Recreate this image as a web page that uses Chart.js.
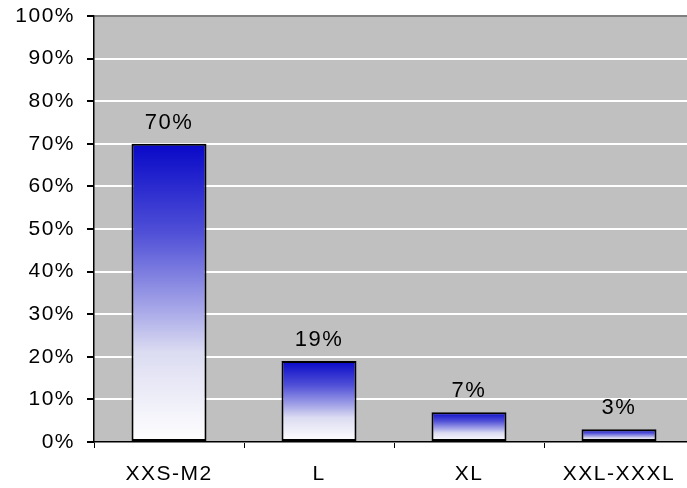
<!DOCTYPE html>
<html>
<head>
<meta charset="utf-8">
<script src="https://cdn.jsdelivr.net/npm/chart.js@4"></script>
<style>
  body { margin: 0; background: #fff; }
  #wrap { width: 687px; height: 488px; overflow: hidden; }
</style>
</head>
<body>
<div id="wrap"><canvas id="bar-chart" width="694" height="488"></canvas></div>
<script>
const labels = ["XXS-M2", "L", "XL", "XXL-XXXL"];
const shares = [70, 19, 7, 3];
const yTicks = [0, 10, 20, 30, 40, 50, 60, 70, 80, 90, 100];

const FONT = "'Liberation Sans', Arial, sans-serif";

// blue at the top of each bar fading to white at its base
const barFill = (ctx) => {
  const chart = ctx.chart;
  const y = chart.scales.y;
  if (!y || !chart.chartArea) return "#3333cc";
  const top = y.getPixelForValue(shares[ctx.dataIndex]);
  const bottom = y.getPixelForValue(0);
  const g = chart.ctx.createLinearGradient(0, top, 0, bottom);
  g.addColorStop(0, "rgb(8,8,200)");
  g.addColorStop(0.3, "rgb(80,80,215)");
  g.addColorStop(0.55, "rgb(165,165,232)");
  g.addColorStop(0.7, "rgb(220,220,242)");
  g.addColorStop(1, "rgb(255,255,255)");
  return g;
};

const plotBackground = {
  id: "plotBackground",
  beforeDraw(chart) {
    const { ctx, chartArea: a } = chart;
    ctx.letterSpacing = "1.5px";
    ctx.save();
    ctx.fillStyle = "#c0c0c0";
    ctx.fillRect(a.left, a.top, a.right - a.left, a.bottom - a.top);
    ctx.restore();
  }
};

const valueLabels = {
  id: "valueLabels",
  afterDatasetsDraw(chart) {
    const ctx = chart.ctx;
    ctx.save();
    ctx.font = "22px " + FONT;
    ctx.fillStyle = "#000";
    ctx.textAlign = "center";
    ctx.textBaseline = "alphabetic";
    chart.getDatasetMeta(0).data.forEach((bar, i) => {
      ctx.fillText(shares[i] + "%", bar.x, bar.y - 15);
    });
    ctx.restore();
  }
};

// eslint-disable-next-line no-new
new Chart(document.getElementById("bar-chart"), {
  type: "bar",
  data: {
    labels: labels,
    datasets: [{
      data: shares,
      backgroundColor: barFill,
      borderColor: "#000",
      borderWidth: 2,
      borderSkipped: false,
      categoryPercentage: 1,
      barPercentage: 0.5
    }]
  },
  options: {
    responsive: false,
    animation: false,
    devicePixelRatio: 1,
    layout: { padding: { top: 16, right: 0, left: 0, bottom: 0 } },
    plugins: { legend: { display: false }, tooltip: { enabled: false } },
    scales: {
      x: {
        afterFit: (s) => { s.height = 46; s.paddingLeft = 0; s.paddingRight = 0; },
        grid: { offset: true, drawOnChartArea: false, drawTicks: true, tickLength: 6, color: "#000" },
        border: { color: "#000", width: 1.5 },
        ticks: { color: "#000", padding: 14, font: { family: FONT, size: 21 } }
      },
      y: {
        min: 0,
        max: 100,
        afterFit: (s) => { s.width = 94; s.paddingTop = 0; s.paddingBottom = 0; },
        afterBuildTicks: (s) => { s.ticks = yTicks.map(v => ({ value: v })); },
        grid: {
          color: (c) => c.tick && c.tick.value === 100 ? "#808080" : "#fff",
          tickColor: "#000",
          lineWidth: 2,
          tickLength: 7
        },
        border: { color: "#000", width: 1.5 },
        ticks: {
          color: "#000",
          padding: 12,
          font: { family: FONT, size: 21 },
          callback: (v) => v + "%"
        }
      }
    }
  },
  plugins: [plotBackground, valueLabels]
});
</script>
</body>
</html>
